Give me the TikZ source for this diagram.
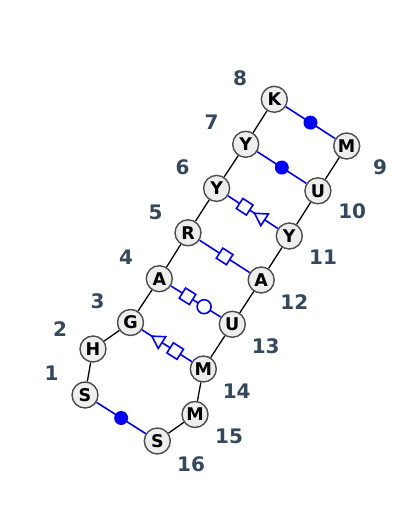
\documentclass[tikz,border=0pt]{standalone}
\usepackage{fontspec}
\setmainfont{DejaVu Sans}
\usetikzlibrary{shapes.geometric}
\definecolor{numcol}{RGB}{52,73,94}
\definecolor{basefill}{RGB}{238,238,238}
\tikzset{
	base/.style={circle,draw=black!70,fill=basefill,line width=1.4pt,minimum size=26pt,inner sep=0pt,font=\fontsize{17.5}{17.5}\selectfont\bfseries},
	idx/.style={text=numcol,font=\fontsize{20}{20}\selectfont\bfseries},
	chain/.style={line width=1.3pt},
	pair/.style={draw=blue,line width=1.6pt},
	lwdot/.style={circle,fill=blue,minimum size=14pt,inner sep=0pt},
	lwring/.style={circle,draw=blue,fill=white,line width=1.6pt,minimum size=14pt,inner sep=0pt},
	lwbox/.style={rectangle,draw=blue,fill=white,line width=1.6pt,minimum size=12pt,inner sep=0pt,sloped},
	lwtri/.style={isosceles triangle,isosceles triangle apex angle=60,draw=blue,fill=white,line width=1.6pt,minimum size=12pt,inner sep=0pt,sloped,shape border rotate=180}
}
\begin{document}
\begin{tikzpicture}[x=1pt,y=-1pt]
		\fill[white] (0,0) rectangle (400,510);
		\useasboundingbox (0,0) rectangle (400,510);
		% bases
		\node[base] (n1) at (85,395) {S};
		\node[base] (n2) at (93,349) {H};
		\node[base] (n3) at (130.5,322.5) {G};
		\node[base] (n4) at (159.3,278.7) {A};
		\node[base] (n5) at (188,232.8) {R};
		\node[base] (n6) at (216.6,188.4) {Y};
		\node[base] (n7) at (245.7,144.3) {Y};
		\node[base] (n8) at (274.3,99.3) {K};
		\node[base] (n9) at (346.7,146) {M};
		\node[base] (n10) at (317.9,190.8) {U};
		\node[base] (n11) at (289.3,236) {Y};
		\node[base] (n12) at (261.2,280) {A};
		\node[base] (n13) at (232.3,324.3) {U};
		\node[base] (n14) at (203.3,369) {M};
		\node[base] (n15) at (195,414.5) {M};
		\node[base] (n16) at (157.3,441) {S};
		% backbone
		\draw[chain] (n1) -- (n2) -- (n3) -- (n4) -- (n5) -- (n6) -- (n7) -- (n8);
		\draw[chain] (n9) -- (n10) -- (n11) -- (n12) -- (n13) -- (n14) -- (n15) -- (n16);
		% pairs
		\draw[pair] (n8) -- (n9) node[midway,lwdot] {};
		\draw[pair] (n7) -- (n10) node[midway,lwdot] {};
		\draw[pair] (n6) -- (n11) node[pos=0.333,lwbox] {} node[pos=0.667,lwtri] {};
		\draw[pair] (n5) -- (n12) node[midway,lwbox] {};
		\draw[pair] (n4) -- (n13) node[pos=0.333,lwbox] {} node[pos=0.667,lwring] {};
		\draw[pair] (n3) -- (n14) node[pos=0.333,lwtri] {} node[pos=0.667,lwbox] {};
		\draw[pair] (n1) -- (n16) node[midway,lwdot] {};
		% numbers
		\node[idx] (l1) at (51.7,373.3) {1};
		\node[idx] (l2) at (60,329.3) {2};
		\node[idx] (l3) at (97.5,301.5) {3};
		\node[idx] (l4) at (126,257.3) {4};
		\node[idx] (l5) at (155.5,212.7) {5};
		\node[idx] (l6) at (182.7,167.3) {6};
		\node[idx] (l7) at (211.7,122.7) {7};
		\node[idx] (l8) at (240,78.3) {8};
		\node[idx] (l9) at (380,167.3) {9};
		\node[idx] (l10) at (352.2,211.7) {10};
		\node[idx] (l11) at (323,257) {11};
		\node[idx] (l12) at (294.3,302.3) {12};
		\node[idx] (l13) at (265.7,346.7) {13};
		\node[idx] (l14) at (236.7,391.7) {14};
		\node[idx] (l15) at (229,436.7) {15};
		\node[idx] (l16) at (191,464) {16};
	\end{tikzpicture}
\end{document}
